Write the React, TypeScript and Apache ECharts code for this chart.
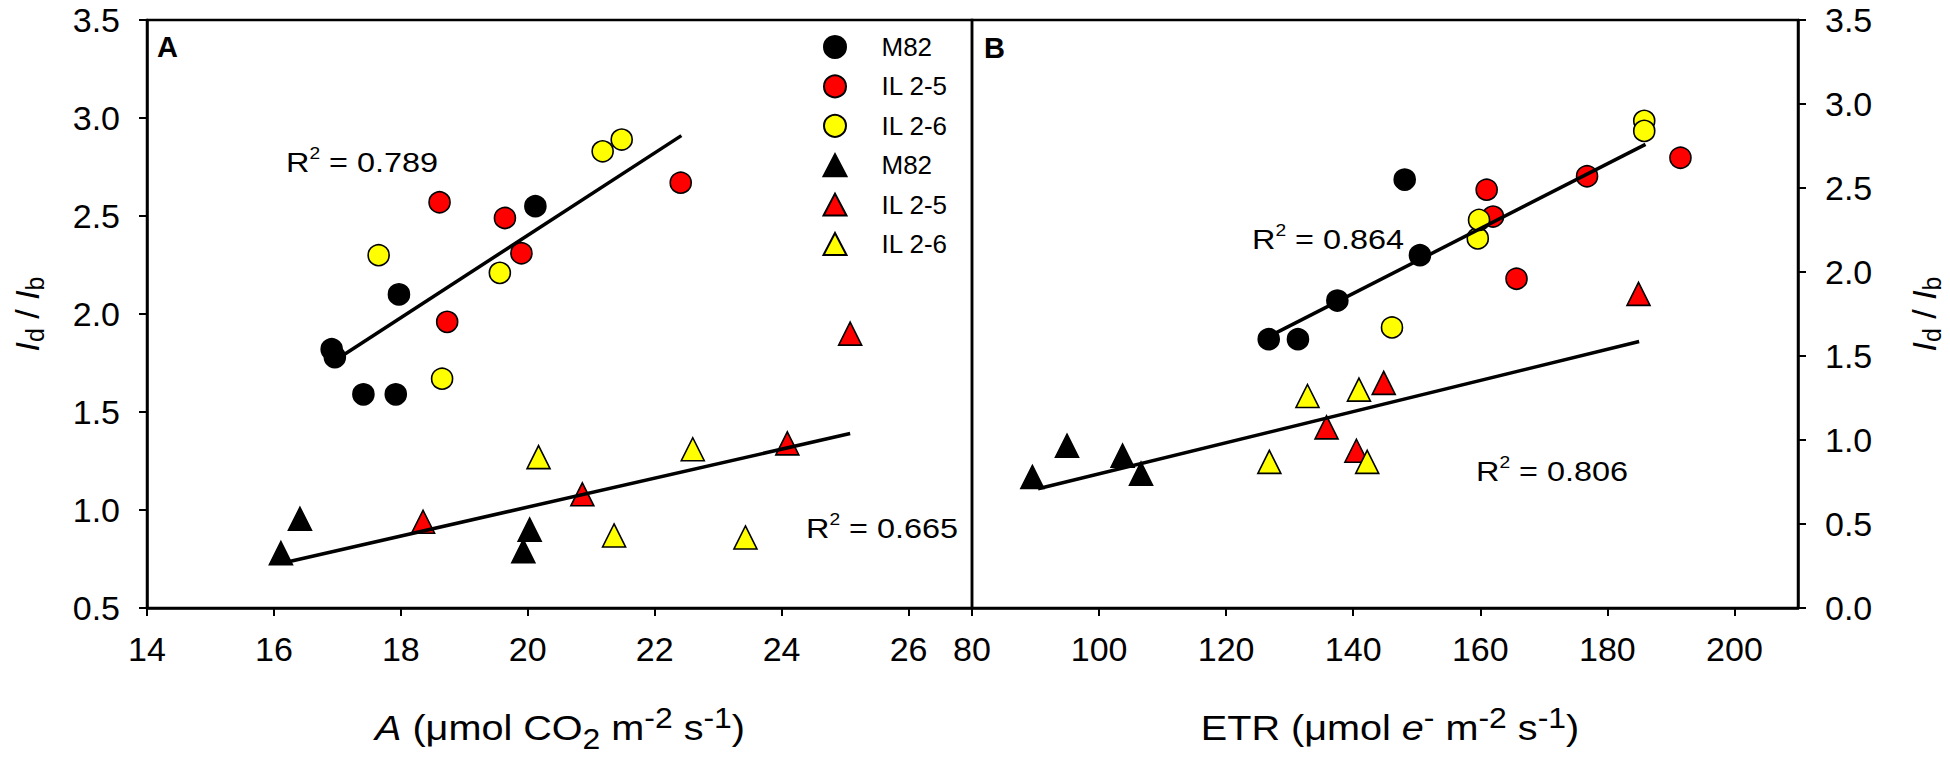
import React, { useEffect, useRef } from "react";
import * as echarts from "echarts";

// ---- Data ----
const groups = ["M82", "IL 2-5", "IL 2-6"];
const groupColors = ["#000000", "#ff0000", "#ffff00"];

// Panel A: x = A (µmol CO2 m-2 s-1), y = Id/Ib
const aCircleM82 = [[16.91, 1.82], [16.96, 1.78], [17.41, 1.59], [17.92, 1.59], [17.97, 2.1], [20.12, 2.55]];
const aCircleIL25 = [[18.61, 2.57], [19.64, 2.49], [19.9, 2.31], [18.73, 1.96], [22.41, 2.67]];
const aCircleIL26 = [[17.65, 2.3], [19.56, 2.21], [18.65, 1.67], [21.18, 2.83], [21.48, 2.89]];
const aTriM82 = [[16.11, 0.78], [16.41, 0.955], [20.03, 0.9], [19.93, 0.79]];
const aTriIL25 = [[18.35, 0.94], [20.86, 1.08], [24.09, 1.34], [25.08, 1.9]];
const aTriIL26 = [[20.17, 1.27], [21.36, 0.87], [22.6, 1.31], [23.43, 0.86]];
const aFitCircle = [[16.98, 1.767], [22.42, 2.91]];
const aFitTri = [[16.21, 0.735], [25.08, 1.39]];

// Panel B: x = ETR (µmol e- m-2 s-1), y = Id/Ib
const bCircleM82 = [[126.7, 1.6], [131.3, 1.6], [137.5, 1.83], [148.1, 2.55], [150.5, 2.1]];
const bCircleIL25 = [[161.0, 2.49], [162.0, 2.33], [165.7, 1.96], [176.8, 2.57], [191.5, 2.68]];
const bCircleIL26 = [[146.1, 1.67], [159.6, 2.2], [159.8, 2.31], [185.8, 2.9], [185.8, 2.84]];
const bTriM82 = [[89.5, 0.78], [94.95, 0.966], [103.7, 0.907], [106.6, 0.8]];
const bTriIL25 = [[135.8, 1.075], [140.5, 0.936], [144.8, 1.34], [184.9, 1.87]];
const bTriIL26 = [[126.8, 0.87], [132.8, 1.262], [140.9, 1.3], [142.2, 0.87]];
const bFitCircle = [[127.3, 1.627], [186.0, 2.76]];
const bFitTri = [[90.4, 0.71], [185.0, 1.586]];

const r2Labels = ["0.789", "0.665", "0.864", "0.806"];

// Axis ranges
const xA = { min: 14, max: 27, interval: 2 };
const xB = { min: 80, max: 210, interval: 20 };
const yA = { min: 0.5, max: 3.5, interval: 0.5 };
const yB = { min: 0, max: 3.5, interval: 0.5 };

const FONT = "Liberation Sans, Arial, Helvetica, sans-serif";

export default function App() {
  const ref = useRef<HTMLDivElement>(null);

  useEffect(() => {
    if (!ref.current) return;
    const chart = echarts.init(ref.current, undefined, { renderer: "svg" });

    const circleSets = [
      [aCircleM82, aCircleIL25, aCircleIL26],
      [bCircleM82, bCircleIL25, bCircleIL26],
    ];
    const triSets = [
      [aTriM82, aTriIL25, aTriIL26],
      [bTriM82, bTriIL25, bTriIL26],
    ];
    const fits = [
      [aFitCircle, aFitTri],
      [bFitCircle, bFitTri],
    ];

    const series: any[] = [];
    for (let p = 0; p < 2; p++) {
      groups.forEach((g, i) => {
        series.push({
          type: "scatter",
          name: g + "|c",
          xAxisIndex: p,
          yAxisIndex: p,
          data: circleSets[p][i],
          symbol: "circle",
          symbolSize: 21,
          itemStyle: { color: groupColors[i], borderColor: "#000", borderWidth: 1.6, opacity: 1 },
          z: 2,
          emphasis: { disabled: true },
        });
      });
      groups.forEach((g, i) => {
        series.push({
          type: "scatter",
          name: g + "|t",
          xAxisIndex: p,
          yAxisIndex: p,
          data: triSets[p][i],
          symbol: "triangle",
          symbolSize: 23,
          itemStyle: { color: groupColors[i], borderColor: "#000", borderWidth: 1.6, opacity: 1 },
          z: 2,
          emphasis: { disabled: true },
        });
      });
      fits[p].forEach((f) => {
        series.push({
          type: "line",
          xAxisIndex: p,
          yAxisIndex: p,
          data: f,
          symbol: "none",
          showSymbol: false,
          lineStyle: { color: "#000", width: 3.5 },
          z: 5,
          silent: true,
        });
      });
    }

    const axisLineStyle = { show: true, lineStyle: { color: "#000", width: 2.5 } };
    const tickStyle = { show: true, length: 8, inside: false, lineStyle: { color: "#000", width: 2 } };
    const labelStyle = { color: "#000", fontSize: 34, lineHeight: 26, fontFamily: FONT };

    const normal = { fontSize: 36, fontFamily: FONT, fill: "#000", lineHeight: 50, verticalAlign: "middle" };
    const ital = { ...normal, fontStyle: "italic" };
    const sup = { fontSize: 29, fontFamily: FONT, fill: "#000", lineHeight: 28, verticalAlign: "top" };
    const sub = { fontSize: 29, fontFamily: FONT, fill: "#000", lineHeight: 28, verticalAlign: "bottom" };
    const titleRich = { n: normal, i: ital, sup, sub };

    const yNormal = { fontSize: 34, fontFamily: FONT, fill: "#000", lineHeight: 40, verticalAlign: "middle" };
    const yTitleRich = {
      n: yNormal,
      i: { ...yNormal, fontStyle: "italic" },
      sub: { fontSize: 25, fontFamily: FONT, fill: "#000", lineHeight: 24, verticalAlign: "bottom" },
    };

    const r2Rich = {
      r: { fontSize: 27, fontFamily: FONT, fill: "#000", lineHeight: 32, verticalAlign: "middle" },
      s: { fontSize: 16, fontFamily: FONT, fill: "#000", lineHeight: 18, verticalAlign: "top" },
    };
    const r2Pos = [
      [286, 162],
      [806, 528],
      [1252, 239],
      [1476, 471],
    ];

    const graphic: any[] = [
      {
        type: "text",
        x: 157,
        y: 32,
        style: { text: "A", fontSize: 29, fontWeight: "bold", fontFamily: FONT, fill: "#000" },
      },
      {
        type: "text",
        x: 984,
        y: 33,
        style: { text: "B", fontSize: 29, fontWeight: "bold", fontFamily: FONT, fill: "#000" },
      },
      ...r2Labels.map((t, k) => ({
        type: "text",
        x: r2Pos[k][0],
        y: r2Pos[k][1],
        scaleX: 1.2,
        style: {
          text: "{r|R}{s|2}{r| = " + t + "}",
          rich: r2Rich,
          align: "left",
          verticalAlign: "middle",
        },
      })),
      {
        type: "text",
        x: 560,
        y: 728,
        scaleX: 1.1,
        style: {
          text: "{i|A}{n| (μmol CO}{sub|2}{n| m}{sup|-2}{n| s}{sup|-1}{n|)}",
          rich: titleRich,
          align: "center",
          verticalAlign: "middle",
        },
      },
      {
        type: "text",
        x: 1390,
        y: 728,
        scaleX: 1.1,
        style: {
          text: "{n|ETR (μmol }{i|e}{sup|-}{n| m}{sup|-2}{n| s}{sup|-1}{n|)}",
          rich: titleRich,
          align: "center",
          verticalAlign: "middle",
        },
      },
      {
        type: "text",
        x: 27,
        y: 314,
        rotation: Math.PI / 2,
        style: {
          text: "{i|I}{sub|d}{n| / }{i|I}{sub|b}",
          rich: yTitleRich,
          align: "center",
          verticalAlign: "middle",
        },
      },
      {
        type: "text",
        x: 1924,
        y: 314,
        rotation: Math.PI / 2,
        style: {
          text: "{i|I}{sub|d}{n| / }{i|I}{sub|b}",
          rich: yTitleRich,
          align: "center",
          verticalAlign: "middle",
        },
      },
    ];

    const option: any = {
      animation: false,
      backgroundColor: "#ffffff",
      textStyle: { fontFamily: FONT },
      grid: [
        { left: 147, top: 20, width: 825, height: 588, show: true, borderColor: "#000", borderWidth: 2.5, backgroundColor: "transparent" },
        { left: 972, top: 20, width: 826, height: 588, show: true, borderColor: "#000", borderWidth: 2.5, backgroundColor: "transparent" },
      ],
      xAxis: [
        {
          type: "value",
          gridIndex: 0,
          min: xA.min,
          max: xA.max,
          interval: xA.interval,
          axisLine: axisLineStyle,
          axisTick: tickStyle,
          axisLabel: { ...labelStyle, margin: 28, showMaxLabel: false },
          splitLine: { show: false },
        },
        {
          type: "value",
          gridIndex: 1,
          min: xB.min,
          max: xB.max,
          interval: xB.interval,
          axisLine: axisLineStyle,
          axisTick: tickStyle,
          axisLabel: { ...labelStyle, margin: 28, showMaxLabel: false },
          splitLine: { show: false },
        },
      ],
      yAxis: [
        {
          type: "value",
          gridIndex: 0,
          position: "left",
          min: yA.min,
          max: yA.max,
          interval: yA.interval,
          axisLine: axisLineStyle,
          axisTick: tickStyle,
          axisLabel: { ...labelStyle, margin: 27, formatter: (v: number) => v.toFixed(1) },
          splitLine: { show: false },
        },
        {
          type: "value",
          gridIndex: 1,
          position: "right",
          min: yB.min,
          max: yB.max,
          interval: yB.interval,
          axisLine: axisLineStyle,
          axisTick: tickStyle,
          axisLabel: { ...labelStyle, margin: 27, formatter: (v: number) => v.toFixed(1) },
          splitLine: { show: false },
        },
      ],
      legend: {
        orient: "vertical",
        left: 822.5,
        top: 34,
        padding: 0,
        itemWidth: 23,
        itemHeight: 22,
        itemGap: 13.4,
        selectedMode: false,
        data: groups.map((g) => g + "|c").concat(groups.map((g) => g + "|t")),
        formatter: (name: string) => name.split("|")[0],
        textStyle: { color: "#000", fontSize: 26, lineHeight: 22, fontFamily: FONT, padding: [0, 0, 0, 30] },
      },
      series,
      graphic,
    };

    chart.setOption(option);
    return () => chart.dispose();
  }, []);

  return (
    <div
      ref={ref}
      style={{ position: "fixed", left: 0, top: 0, width: "1950px", height: "763px", background: "#fff" }}
    />
  );
}
